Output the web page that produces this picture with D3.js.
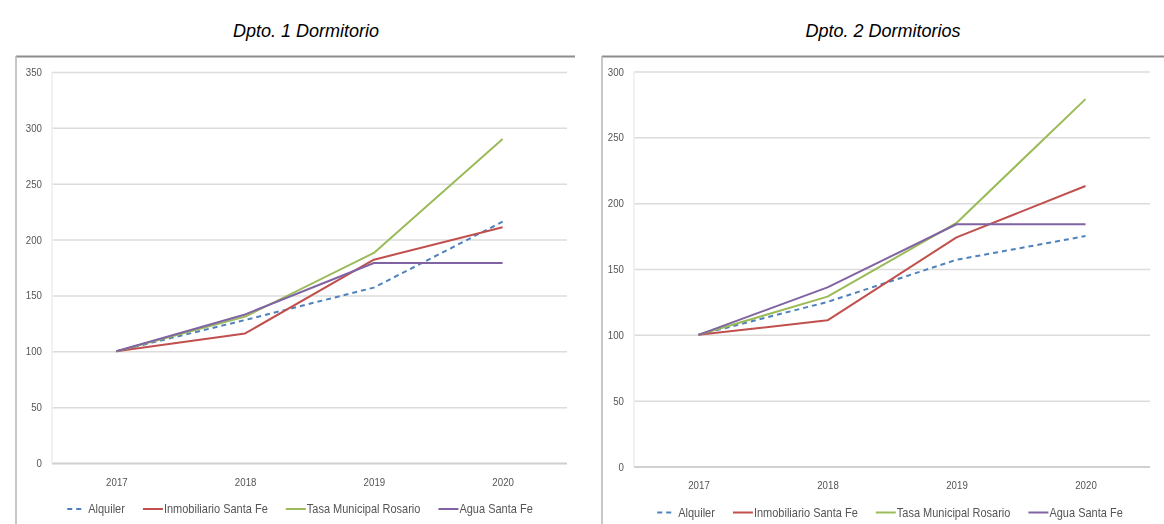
<!DOCTYPE html>
<html>
<head>
<meta charset="utf-8">
<script src="https://cdn.jsdelivr.net/npm/d3@7/dist/d3.min.js"></script>
<style>
  html, body { margin: 0; padding: 0; background: #fff; }
  svg { display: block; }
</style>
</head>
<body>
<svg id="chart" width="1164" height="524"></svg>
<script>
// Years on the x axis
const years = ["2017", "2018", "2019", "2020"];

// Series names (legend order)
const seriesNames = ["Alquiler", "Inmobiliario Santa Fe", "Tasa Municipal Rosario", "Agua Santa Fe"];

// Dpto. 1 Dormitorio — index values (2017 = 100)
const alquiler1 = [100, 128, 157, 216];
const inmobiliario1 = [100, 116, 182, 211];
const tasa1 = [100, 131, 188, 290];
const agua1 = [100, 133, 179, 179];

// Dpto. 2 Dormitorios — index values (2017 = 100)
const alquiler2 = [100, 125, 157, 175];
const inmobiliario2 = [100, 111, 174, 213];
const tasa2 = [100, 129, 185, 279];
const agua2 = [100, 136, 184, 184];

// Y tick values per panel
const yTicks1 = [0, 50, 100, 150, 200, 250, 300, 350];
const yTicks2 = [0, 50, 100, 150, 200, 250, 300];

const titles = ["Dpto. 1 Dormitorio", "Dpto. 2 Dormitorios"];

const colors = ["#4F81BD", "#C0504D", "#9BBB59", "#8064A2"];
const dashes = ["5,4", null, null, null];

const svg = d3.select("#chart");

// Soft filter for the embedded chart panels
svg.append("defs").append("filter")
  .attr("id", "soft")
  .attr("x", "-2%").attr("y", "-2%").attr("width", "104%").attr("height", "104%")
  .append("feGaussianBlur").attr("stdDeviation", 0.45);

const panels = [
  { title: titles[0], series: [alquiler1, inmobiliario1, tasa1, agua1], ticks: yTicks1,
    frameX: 16, frameRight: 575, x0: 52, x1: 567, yBottom: 463, yTop: 72, titleX: 306, legendCentre: 300 },
  { title: titles[1], series: [alquiler2, inmobiliario2, tasa2, agua2], ticks: yTicks2,
    frameX: 602, frameRight: 1170, x0: 634, x1: 1150, yBottom: 466.5, yTop: 71.5, titleX: 883, legendCentre: 890 }
];

const labelFont = "'Liberation Sans', Arial, sans-serif";
const squeeze = 0.88; // horizontal compression of label text

panels.forEach(p => {
  // Title above the frame
  svg.append("text")
    .attr("x", p.titleX).attr("y", 37)
    .attr("text-anchor", "middle")
    .attr("font-family", "'Liberation Sans', Arial, sans-serif")
    .attr("font-style", "italic")
    .attr("font-size", 18)
    .attr("fill", "#000")
    .text(p.title);

  const panel = svg.append("g").attr("filter", "url(#soft)");

  // Frame: top and left edges
  panel.append("line")
    .attr("x1", p.frameX).attr("x2", p.frameRight)
    .attr("y1", 56.5).attr("y2", 56.5)
    .attr("stroke", "#8c8c8c").attr("stroke-width", 2);
  panel.append("line")
    .attr("x1", p.frameX).attr("x2", p.frameX)
    .attr("y1", 56).attr("y2", 530)
    .attr("stroke", "#b5b5b5").attr("stroke-width", 1.5);

  const g = panel.append("g");

  const x = d3.scalePoint().domain(years).range([p.x0, p.x1]).padding(0.5);
  const yMax = p.ticks[p.ticks.length - 1];
  const y = d3.scaleLinear().domain([0, yMax]).range([p.yBottom, p.yTop]);

  // Horizontal gridlines
  g.append("g")
    .attr("transform", `translate(${p.x0},0)`)
    .call(d3.axisLeft(y).tickValues(p.ticks).tickSize(-(p.x1 - p.x0)).tickFormat(""))
    .call(a => a.select(".domain").remove())
    .call(a => a.selectAll(".tick line")
      .attr("stroke", d => d === 0 ? "#d0d0d0" : "#dcdcdc")
      .attr("stroke-width", d => d === 0 ? 2 : 1.5));

  // Light vertical edge of the plot area
  g.append("line")
    .attr("x1", p.x0).attr("x2", p.x0)
    .attr("y1", p.yTop).attr("y2", p.yBottom)
    .attr("stroke", "#ececec").attr("stroke-width", 1.5);

  // Y tick labels
  g.append("g")
    .attr("transform", `translate(${p.x0 - 10},0)`)
    .call(d3.axisLeft(y).tickValues(p.ticks).tickSize(0).tickPadding(0))
    .call(a => a.select(".domain").remove())
    .call(a => a.selectAll("text")
      .attr("font-family", labelFont)
      .attr("font-size", 11)
      .attr("fill", "#555")
      .attr("transform", `scale(${squeeze},1)`)
      .attr("x", 0));

  // X tick labels
  g.append("g")
    .attr("transform", `translate(0,${p.yBottom + 15})`)
    .call(d3.axisBottom(x).tickSize(0).tickPadding(0))
    .call(a => a.select(".domain").remove())
    .call(a => a.selectAll("text")
      .attr("font-family", labelFont)
      .attr("font-size", 11)
      .attr("fill", "#555")
      .attr("transform", `scale(${squeeze},1)`));

  // Series lines
  const line = d3.line().x((d, i) => x(years[i])).y(d => y(d));
  p.series.forEach((vals, si) => {
    g.append("path")
      .datum(vals)
      .attr("d", line)
      .attr("fill", "none")
      .attr("stroke", colors[si])
      .attr("stroke-width", 2)
      .attr("stroke-linejoin", "round")
      .attr("stroke-dasharray", dashes[si]);
  });

  // Legend below the x labels
  const legend = panel.append("g");
  const itemGap = 18;
  let cx = 0;
  seriesNames.forEach((name, si) => {
    const symLen = si === 0 ? 16 : 20;
    const it = legend.append("g");
    it.append("line")
      .attr("x1", 0).attr("x2", symLen)
      .attr("y1", 0).attr("y2", 0)
      .attr("stroke", colors[si]).attr("stroke-width", 2)
      .attr("stroke-dasharray", dashes[si]);
    const t = it.append("text")
      .attr("transform", `translate(${symLen + (si === 0 ? 5 : 1)},4) scale(${squeeze},1)`)
      .attr("font-family", labelFont)
      .attr("font-size", 12.5)
      .attr("fill", "#555")
      .text(name);
    const w = symLen + (si === 0 ? 5 : 1) + t.node().getComputedTextLength() * squeeze;
    it.attr("transform", `translate(${cx},0)`);
    cx += w + itemGap;
  });
  const total = cx - itemGap;
  legend.attr("transform", `translate(${p.legendCentre - total / 2},${p.yBottom + 46})`);
});
</script>
</body>
</html>
